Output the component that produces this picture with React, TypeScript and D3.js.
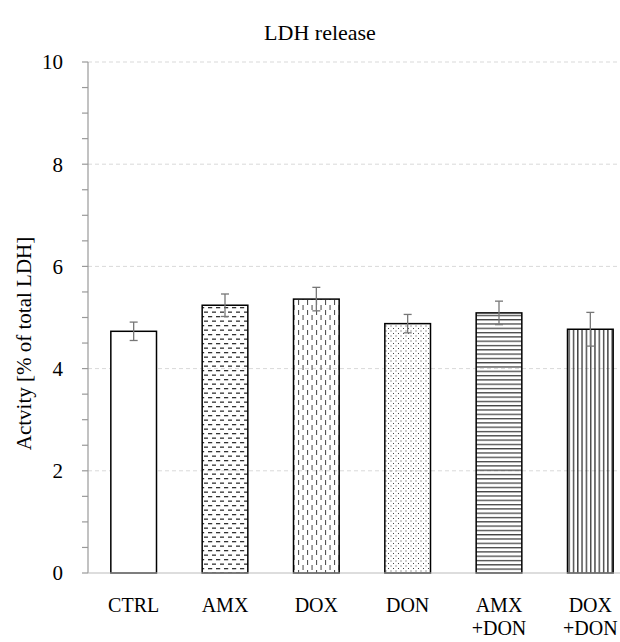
import React from 'react';
import * as d3 from 'd3';

const categories = ['CTRL', 'AMX', 'DOX', 'DON', 'AMX\n+DON', 'DOX\n+DON'];
const means = [4.73, 5.24, 5.36, 4.88, 5.09, 4.77];
const errors = [0.18, 0.22, 0.23, 0.18, 0.23, 0.33];
const patternIds = ['none', 'pAmx', 'pDox', 'pDon', 'pAmxDon', 'pDoxDon'];
const yTicks = [0, 2, 4, 6, 8, 10];

const W = 620;
const H = 642;
const margin = { top: 62, left: 88, bottom: 69 };

const App: React.FC = () => {
  const y = d3.scaleLinear().domain([0, 10]).range([H - margin.bottom, margin.top]);
  const x = d3.scaleBand<string>()
    .domain(categories)
    .range([margin.left, 636])
    .paddingInner(0.5)
    .paddingOuter(0.25);
  const minorTicks = d3.range(0, 10.01, 0.5);
  const font = '"Liberation Serif", "DejaVu Serif", serif';

  return (
    <svg width={W} height={H} style={{ position: 'absolute', left: 0, top: 0 }} fontFamily={font}>
      <defs>
        <pattern id="pAmx" patternUnits="userSpaceOnUse" width="8" height="9">
          <rect x="0" y="1" width="4.2" height="1.3" fill="#333" />
          <rect x="4" y="5.5" width="4.2" height="1.3" fill="#333" />
        </pattern>
        <pattern id="pDox" patternUnits="userSpaceOnUse" width="9" height="10">
          <rect x="1" y="0" width="1.1" height="5" fill="#555" />
          <rect x="5.5" y="5" width="1.1" height="5" fill="#555" />
        </pattern>
        <pattern id="pDon" patternUnits="userSpaceOnUse" width="5" height="5">
          <rect x="0.5" y="0.5" width="1" height="1" fill="#444" />
          <rect x="3" y="3" width="1" height="1" fill="#444" />
        </pattern>
        <pattern id="pAmxDon" patternUnits="userSpaceOnUse" width="10" height="4.3">
          <rect x="0" y="1" width="10" height="1.1" fill="#222" />
        </pattern>
        <pattern id="pDoxDon" patternUnits="userSpaceOnUse" width="4.3" height="10">
          <rect x="1" y="0" width="1.2" height="10" fill="#222" />
        </pattern>
      </defs>

      <text x={320} y={40} textAnchor="middle" fontSize={22} fill="#000">LDH release</text>

      {/* grid */}
      {yTicks.filter(t => t > 0).map(t => (
        <line key={t} x1={margin.left} x2={W} y1={y(t)} y2={y(t)}
          stroke="#d9d9d9" strokeDasharray="4,3" strokeWidth={1} />
      ))}

      {/* bars */}
      {categories.map((c, i) => {
        const x0 = x(c)!;
        const bw = x.bandwidth();
        return (
          <rect key={c} x={x0} y={y(means[i])} width={bw} height={y(0) - y(means[i])}
            fill={patternIds[i] === 'none' ? '#fff' : `url(#${patternIds[i]})`}
            stroke="#000" strokeWidth={1.5} />
        );
      })}

      {/* axes */}
      <line x1={margin.left} x2={margin.left} y1={y(0)} y2={y(10)} stroke="#999" strokeWidth={1.2} />
      <line x1={margin.left} x2={W} y1={y(0)} y2={y(0)} stroke="#bbb" strokeWidth={1.2} />
      {minorTicks.map(t => (
        <line key={t} x1={margin.left - 6} x2={margin.left} y1={y(t)} y2={y(t)} stroke="#999" strokeWidth={1.2} />
      ))}
      {yTicks.map(t => (
        <text key={t} x={63} y={y(t)} dy="0.35em" textAnchor="end" fontSize={21} fill="#000">{t}</text>
      ))}

      {/* error bars */}
      {categories.map((c, i) => {
        const cx = x(c)! + x.bandwidth() / 2;
        return (
          <g key={c} stroke="#777" strokeWidth={1.3}>
            <line x1={cx} x2={cx} y1={y(means[i] + errors[i])} y2={y(means[i] - errors[i])} />
            <line x1={cx - 4} x2={cx + 4} y1={y(means[i] + errors[i])} y2={y(means[i] + errors[i])} />
            <line x1={cx - 4} x2={cx + 4} y1={y(means[i] - errors[i])} y2={y(means[i] - errors[i])} />
          </g>
        );
      })}

      {/* category labels */}
      {categories.map(c => {
        const cx = x(c)! + x.bandwidth() / 2;
        return c.split('\n').map((line, j) => (
          <text key={c + j} x={cx} y={612 + j * 23} textAnchor="middle" fontSize={20} fill="#000">{line}</text>
        ));
      })}

      <text transform={`translate(31,${(y(0) + y(10)) / 2 + 26}) rotate(-90)`} textAnchor="middle"
        fontSize={21} fill="#000">Actvity [% of total LDH]</text>
    </svg>
  );
};

export default App;
